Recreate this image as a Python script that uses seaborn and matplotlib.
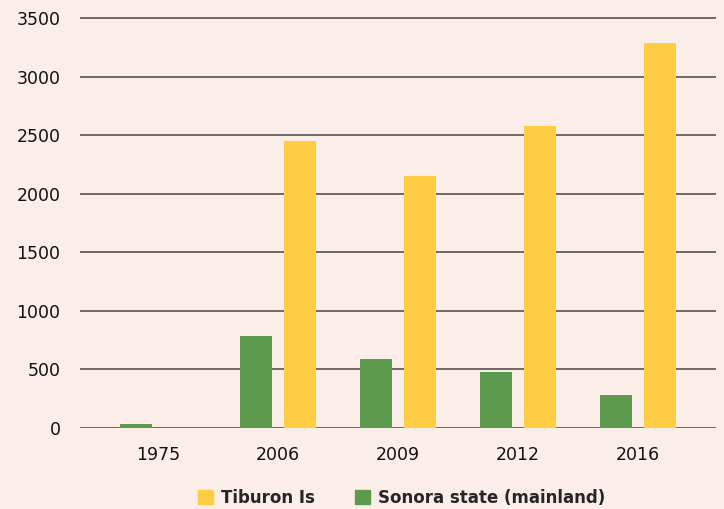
import matplotlib
matplotlib.use('Agg')
import matplotlib.pyplot as plt
import pandas as pd
import seaborn as sns
from matplotlib.patches import Patch

years = ['1975', '2006', '2009', '2012', '2016']
sonora = [30, 785, 590, 480, 280]
tiburon = [0, 2450, 2150, 2580, 3290]

green = '#5e9a4e'
yellow = '#ffcd44'
bg = '#fbeee9'

df = pd.DataFrame({
    'year': years * 2,
    'value': sonora + tiburon,
    'area': ['Sonora state (mainland)'] * 5 + ['Tiburon Is'] * 5,
})

sns.set_style('white')
plt.rcParams['font.family'] = ['DejaVu Sans']

fig = plt.figure(figsize=(7.24, 5.09), dpi=100, facecolor=bg)
ax = fig.add_axes([0.1105, 0.1597, 0.8785, 0.8077])
ax.set_facecolor(bg)

sns.barplot(data=df, x='year', y='value', hue='area',
            hue_order=['Sonora state (mainland)', 'Tiburon Is'],
            palette=[green, yellow], width=0.733, gap=0.27,
            saturation=1, errorbar=None, legend=False, ax=ax,
            linewidth=0, zorder=3)

ax.set_xlim(-0.65, 4.65)
ax.set_ylim(0, 3512)
ax.set_yticks(range(0, 3501, 500))
ax.yaxis.grid(True, color='#444444', linewidth=1.1, zorder=0)
ax.set_axisbelow(True)
for s in ax.spines.values():
    s.set_visible(False)
ax.set_xlabel('')
ax.set_ylabel('')
ax.tick_params(axis='both', length=0, labelsize=12.5, colors='#111111')
ax.tick_params(axis='y', pad=14)
ax.tick_params(axis='x', pad=13)

handles = [Patch(color=yellow, label='Tiburon Is'),
           Patch(color=green, label='Sonora state (mainland)')]
fig.legend(handles=handles, loc='lower center', bbox_to_anchor=(0.555, -0.025),
           ncol=2, frameon=False, handlelength=0.9, handleheight=0.9,
           handletextpad=0.5, columnspacing=2.4,
           prop={'size': 12, 'weight': 'bold'})

fig.savefig('out.png', dpi=100, facecolor=bg)
